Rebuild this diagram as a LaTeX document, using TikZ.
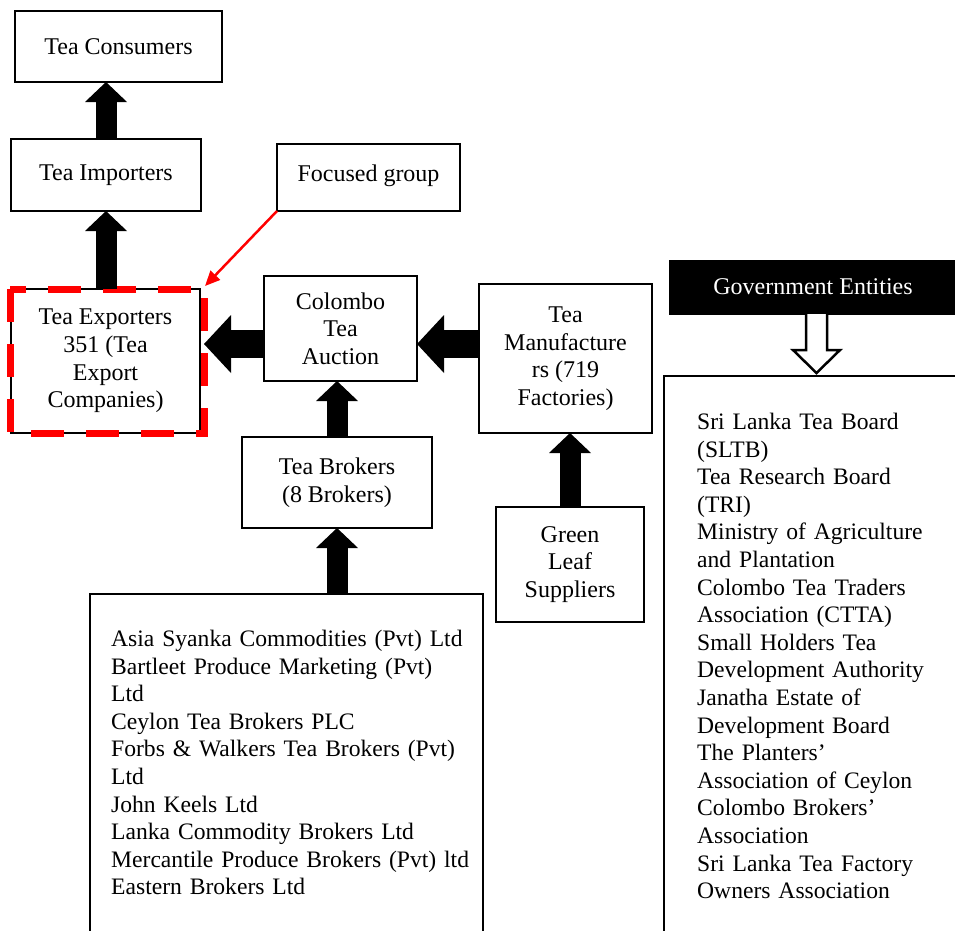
\documentclass[tikz,border=0pt]{standalone}
\usepackage{fontspec}
\setmainfont{Liberation Serif}
\usetikzlibrary{positioning}
\usetikzlibrary{arrows.meta}
\tikzset{
    mybox/.style = {rectangle, line width=1.5pt, draw=black, inner sep=0pt, outer sep=0pt, align=center, fill=white, font=\fontsize{24}{27.6}\selectfont, text=black},
    myboxk/.style = {rectangle, draw=black, fill=black, inner sep=0pt, outer sep=0pt, align=center, font=\fontsize{24}{27.6}\selectfont, text=white},
    mylist/.style = {inner sep=0pt, anchor=north west, align=left, font=\fontsize{23.6}{27.6}\selectfont, text=black},
    edgeu/.style = {line width=21pt, -{Triangle[width=42pt,length=20pt,line width=0pt]}}, % up
    edgel/.style = {line width=28pt, -{Triangle[width=58pt,length=27pt,line width=0pt]}}, % left
    edger/.style = {red, line width=2.5pt, -{Triangle[width=13pt,length=15pt]}},
    edgeh/.style = {draw=black, fill=white, line width=2.5pt, line join=miter}, % hollow
    dashr/.style = {red, line width=7pt, dash pattern=on 33pt off 22pt}
}

\begin{document}
\begin{tikzpicture}[x=1pt,y=-1pt]
  \useasboundingbox (0,0) rectangle (955,930);
  \clip (0,0) rectangle (955,930);
  \node[mybox, minimum width=207pt, minimum height=71pt] (con) at (118.5,46.5) {Tea Consumers};
  \node[mybox, minimum width=190pt, minimum height=72pt] (imp) at (106,175) {Tea Importers};
  \node[mybox, minimum width=183pt, minimum height=67pt] (foc) at (368.5,177.5) {\raisebox{8pt}{Focused group}};
  \node[mybox, minimum width=189pt, minimum height=144pt] (exp) at (105.5,361) {Tea Exporters\\351 (Tea\\Export\\Companies)};
  \node[mybox, minimum width=153pt, minimum height=105pt] (auc) at (340.5,328.5) {Colombo\\Tea\\Auction};
  \node[mybox, minimum width=173pt, minimum height=149pt] (man) at (565.5,358.5) {Tea\\Manufacture\\rs (719\\Factories)};
  \node[mybox, minimum width=148pt, minimum height=115pt] (grn) at (570,564.5) {Green\\Leaf\\Suppliers};
  \node[mybox, minimum width=190pt, minimum height=91pt] (bro) at (337,482.5) {Tea Brokers\\(8 Brokers)};
  \node[myboxk, minimum width=288pt, minimum height=54pt] (gov) at (813,287) {Government Entities};
  \node[mybox, anchor=north west, minimum width=393pt, minimum height=500pt] (brol) at (90,594) {};
  \node[mybox, anchor=north west, minimum width=300pt, minimum height=700pt] (govl) at (664,376) {};
  \node[mylist, text width=365pt] (brolt) at ([xshift=21pt,yshift=-36pt]brol.north west) {Asia Syanka Commodities (Pvt) Ltd\\
    \makebox[351pt][s]{Bartleet Produce Marketing (Pvt)}\\
    Ltd\\
    Ceylon Tea Brokers PLC\\
    \makebox[351pt][s]{Forbs \& Walkers Tea Brokers (Pvt)}\\
    Ltd\\
    John Keels Ltd\\
    Lanka Commodity Brokers Ltd\\
    Mercantile Produce Brokers (Pvt) ltd\\
    Eastern Brokers Ltd};
  \node[mylist, text width=250pt] (govlt) at ([xshift=33pt,yshift=-37pt]govl.north west) {Sri Lanka Tea Board\\
    (SLTB)\\
    Tea Research Board\\
    (TRI)\\
    Ministry of Agriculture\\
    and Plantation\\
    Colombo Tea Traders\\
    Association (CTTA)\\
    Small Holders Tea\\
    Development Authority\\
    Janatha Estate of\\
    Development Board\\
    The Planters’\\
    Association of Ceylon\\
    Colombo Brokers’\\
    Association\\
    Sri Lanka Tea Factory\\
    Owners Association};
  % focused group
  \draw[dashr] ([xshift=-1pt]exp.north west) rectangle ([xshift=4pt]exp.south east);
  \draw[edger] (foc.south west) -- ([xshift=5pt,yshift=3pt]exp.north east);
  % flows
  \coordinate (midr) at ([yshift=-15.5pt]auc.east);
  \coordinate (midl) at ([yshift=-15.5pt]auc.west);
  \coordinate (expe) at ([xshift=4pt]exp.east);
  \draw[edgeu] (imp.north) -- (imp.north |- con.south);
  \draw[edgeu] (imp.south |- exp.north) -- (imp.south);
  \draw[edgeu] (bro.north) -- (bro.north |- auc.south);
  \draw[edgeu] (bro.south |- brol.north) -- (bro.south);
  \draw[edgeu] (grn.north) -- (grn.north |- man.south);
  \draw[edgel] (midr -| man.west) -- (midr);
  \draw[edgel] (midl) -- (midl -| expe);
  % government
  \draw[edgeh] ([xshift=3.5pt]gov.south) ++(-10.5,0) -- ++(0,36) -- ++(-13,0) -- ++(23.5,23) -- ++(23.5,-23) -- ++(-13,0) -- ++(0,-36);
\end{tikzpicture}
\end{document}
